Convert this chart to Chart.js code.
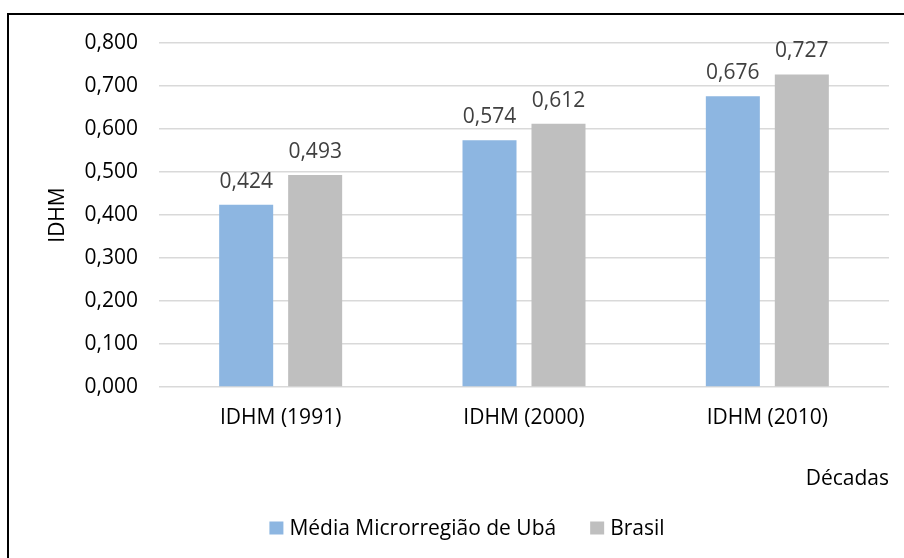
<!DOCTYPE html>
<html>
<head>
<meta charset="utf-8">
<script src="https://cdn.jsdelivr.net/npm/chart.js@4"></script>
<style>
  html, body { margin: 0; padding: 0; background: #fff; }
  #wrap { position: relative; width: 904px; height: 558px; overflow: hidden; }
  #frame { position: absolute; left: 7px; top: 13px; width: 1000px; height: 1000px; border: 2px solid #000; box-sizing: border-box; }
  canvas { position: absolute; left: 0; top: 0; }
</style>
</head>
<body>
<div id="wrap">
  <div id="frame"></div>
  <canvas id="c" width="904" height="558"></canvas>
</div>
<script>
const categories = ['IDHM (1991)', 'IDHM (2000)', 'IDHM (2010)'];
const seriesNames = ['Média Microrregião de Ubá', 'Brasil'];
const mediaUba = [0.424, 0.574, 0.676];
const brasil = [0.493, 0.612, 0.727];
const yMin = 0, yMax = 0.8, yStep = 0.1;
const yTitle = 'IDHM';
const xTitle = 'Décadas';
const colors = ['#8DB6E1', '#BFBFBF'];

const FONT = '"Open Sans", Lato, sans-serif';
const FS = 21;
const fmt = v => v.toFixed(3).replace('.', ',');

const labelPlugin = {
  id: 'valueLabels',
  afterDatasetsDraw(chart) {
    const ctx = chart.ctx;
    ctx.save();
    ctx.font = FS + 'px ' + FONT;
    ctx.fillStyle = '#404040';
    ctx.textAlign = 'center';
    ctx.textBaseline = 'alphabetic';
    chart.data.datasets.forEach((ds, i) => {
      chart.getDatasetMeta(i).data.forEach((bar, j) => {
        ctx.fillText(fmt(ds.data[j]), bar.x, bar.y - 17);
      });
    });
    ctx.restore();
  }
};

// Vertical axis title, placed at a fixed distance left of the plot
const yTitlePlugin = {
  id: 'yTitle',
  afterDraw(chart) {
    const ctx = chart.ctx;
    const area = chart.chartArea;
    ctx.save();
    ctx.font = FS + 'px ' + FONT;
    ctx.fillStyle = '#000';
    ctx.textAlign = 'center';
    ctx.textBaseline = 'middle';
    ctx.translate(area.left - 101, (area.top + area.bottom) / 2);
    ctx.rotate(-Math.PI / 2);
    ctx.fillText(yTitle, 0, 0);
    ctx.restore();
  }
};

// Legend drawn below the axis, Excel-style spacing
const legendPlugin = {
  id: 'excelLegend',
  afterDraw(chart) {
    const ctx = chart.ctx;
    const box = 14, boxH = 13, gapText = 6, gapItem = 34;
    const cy = 528, cx = 467;
    ctx.save();
    ctx.font = FS + 'px ' + FONT;
    const items = chart.data.datasets.map(ds => ({
      text: ds.label, color: ds.backgroundColor, w: ctx.measureText(ds.label).width
    }));
    let total = 0;
    items.forEach((it, i) => { total += box + gapText + it.w + (i < items.length - 1 ? gapItem : 0); });
    let x = cx - total / 2;
    ctx.textBaseline = 'middle';
    ctx.textAlign = 'left';
    items.forEach(it => {
      ctx.fillStyle = it.color;
      ctx.fillRect(x, cy - boxH / 2, box, boxH);
      ctx.fillStyle = '#000';
      ctx.fillText(it.text, x + box + gapText, cy + 1);
      x += box + gapText + it.w + gapItem;
    });
    ctx.restore();
  }
};

new Chart(document.getElementById('c'), {
  type: 'bar',
  data: {
    labels: categories,
    datasets: [
      { label: seriesNames[0], data: mediaUba, backgroundColor: colors[0] },
      { label: seriesNames[1], data: brasil, backgroundColor: colors[1] }
    ]
  },
  options: {
    responsive: false,
    animation: false,
    devicePixelRatio: 1,
    categoryPercentage: 0.567,
    barPercentage: 0.783,
    layout: { padding: { top: 43, right: 15, left: 0, bottom: 0 } },
    plugins: {
      legend: { display: false },
      tooltip: { enabled: false }
    },
    scales: {
      x: {
        grid: { display: false, drawTicks: false },
        border: { display: false },
        ticks: { font: { family: FONT, size: FS }, color: '#000', padding: 18 },
        title: {
          display: true, text: xTitle, align: 'end',
          font: { family: FONT, size: FS }, color: '#000',
          padding: { top: 0, bottom: 66 }
        },
        afterFit(scale) { scale.height = 171; }
      },
      y: {
        min: yMin, max: yMax,
        ticks: {
          stepSize: yStep,
          font: { family: FONT, size: FS }, color: '#000', padding: 21,
          callback: v => fmt(v)
        },
        grid: { color: '#D9D9D9', lineWidth: 1.5, drawTicks: false },
        border: { display: false },
        afterFit(scale) { scale.width = 159; }
      }
    }
  },
  plugins: [labelPlugin, yTitlePlugin, legendPlugin]
});
</script>
</body>
</html>
